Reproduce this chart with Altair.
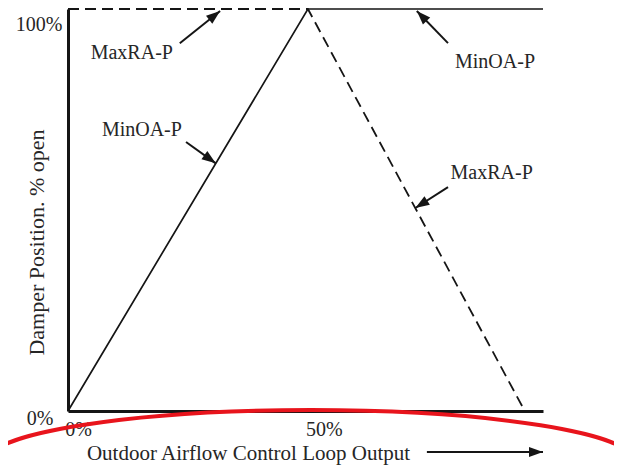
import math
import altair as alt
import pandas as pd

# ---- data ----
minoa_x = [0, 50, 99]
minoa_y = [0, 100, 100]
maxra_x = [0, 50, 95.2]
maxra_y = [100, 100, 0]

x_ticks = [0, 50]
y_ticks = [0, 100]

label_text = ["MaxRA-P", "MinOA-P", "MinOA-P", "MaxRA-P"]
label_x = [13.3, 15.4, 89.0, 88.3]
label_y = [89.1, 69.9, 86.8, 59.2]

arrow_x0 = [23.3, 24.6, 79.2, 79.2, 74.8]
arrow_y0 = [91.5, 66.9, 91.5, 55.7, -10.2]
arrow_x1 = [31.7, 30.8, 72.7, 72.4, 99.0]
arrow_y1 = [99.5, 61.6, 99.5, 50.5, -10.2]

ellipse_x = [50.6]
ellipse_y = [-12.7]

# ---- layout ----
W, H = 475, 402
X_MAX, Y_MAX = 99, 100
FONT = "Liberation Serif"
INK = "#151515"
TXT = "#262626"
HEAD_LEN = 14

kx = W / X_MAX
ky = H / Y_MAX

# arrowhead positions / angles derived from the arrow arrays
head_x, head_y, head_a = [], [], []
for x0, y0, x1, y1 in zip(arrow_x0, arrow_y0, arrow_x1, arrow_y1):
    dx = (x1 - x0) * kx
    dy = -(y1 - y0) * ky
    L = math.hypot(dx, dy)
    ux, uy = dx / L, dy / L
    head_x.append(x1 - (HEAD_LEN / 2) * ux / kx)
    head_y.append(y1 + (HEAD_LEN / 2) * uy / ky)
    head_a.append(math.degrees(math.atan2(dx, -dy)) % 360)

minoa_df = pd.DataFrame({"x": minoa_x, "y": minoa_y})
maxra_df = pd.DataFrame({"x": maxra_x, "y": maxra_y})
label_df = pd.DataFrame({"x": label_x, "y": label_y, "t": label_text})
arrow_df = pd.DataFrame({"x": arrow_x0, "y": arrow_y0, "x2": arrow_x1, "y2": arrow_y1})
head_df = pd.DataFrame({"x": head_x, "y": head_y, "a": head_a})
ell_df = pd.DataFrame({"x": ellipse_x, "y": ellipse_y})

xsc = alt.Scale(domain=[0, X_MAX], nice=False, zero=False)
ysc = alt.Scale(domain=[0, Y_MAX], nice=False, zero=False)

x_axis = alt.Axis(
    values=x_ticks, labelExpr="datum.value + '%'", ticks=False, grid=False,
    domainColor=INK, domainWidth=3, labelFont=FONT, labelFontSize=20,
    labelColor=TXT, labelBaseline="middle", labelPadding=18, labelFlush=False,
    labelOverlap=False,
    labelOffset={"condition": {"test": "datum.value == 0", "value": 10}, "value": 16},
    title="Outdoor Airflow Control Loop Output", titleFont=FONT, titleFontSize=21,
    titleFontWeight="normal", titleColor=TXT, titleX=180, titleY=48,
    titleAlign="center", titleBaseline="alphabetic",
)
y_axis = alt.Axis(
    values=y_ticks, labelExpr="datum.value + '%'", ticks=False, grid=False,
    domainColor=INK, domainWidth=3, labelFont=FONT, labelFontSize=20,
    labelColor=TXT, labelBaseline="middle", labelAlign="right", labelFlush=False,
    labelOverlap=False,
    labelPadding={"condition": {"test": "datum.value == 100", "value": 6}, "value": 15},
    labelOffset={"condition": {"test": "datum.value == 100", "value": 15}, "value": 7},
    title="Damper Position. % open", titleFont=FONT, titleFontSize=22,
    titleFontWeight="normal", titleColor=TXT, titleX=-25, titleY=233,
    titleAngle=270, titleAlign="center", titleBaseline="alphabetic",
)


def X():
    return alt.X("x:Q", scale=xsc, axis=x_axis)


def Y():
    return alt.Y("y:Q", scale=ysc, axis=y_axis)


minoa = alt.Chart(minoa_df).mark_line(color=INK, strokeWidth=1.7).encode(
    x=X(), y=Y())
maxra = alt.Chart(maxra_df).mark_line(color=INK, strokeWidth=1.8, strokeDash=[11, 6]).encode(
    x=X(), y=Y())
labels = alt.Chart(label_df).mark_text(
    font=FONT, fontSize=20, color=TXT, align="center", baseline="middle"
).encode(x=X(), y=Y(), text="t:N")
arrows = alt.Chart(arrow_df).mark_rule(color=INK, strokeWidth=2).encode(
    x=X(), y=Y(), x2="x2:Q", y2="y2:Q")
heads = alt.Chart(head_df).mark_point(
    shape="M 0 -1 L 0.72 1 L -0.72 1 Z", filled=True, color=INK, opacity=1,
    size=HEAD_LEN ** 2,
).encode(x=X(), y=Y(), angle=alt.Angle("a:Q", scale=None))
ellipse = alt.Chart(ell_df).mark_point(
    shape="M -1 0 A 1 0.16 0 1 1 1 0 A 1 0.16 0 1 1 -1 0 Z", filled=False,
    color="#e8141c", strokeWidth=4, opacity=1, size=650 ** 2,
).encode(x=X(), y=Y())

chart = alt.layer(minoa, maxra, arrows, heads, labels, ellipse).properties(
    width=W, height=H,
    padding={"left": 60, "top": 1, "right": 71, "bottom": 57},
    autosize=alt.AutoSizeParams(type="none"),
    background="white",
).configure_view(stroke=None)

chart.save("out.html", embed_options={"renderer": "svg", "actions": False})
